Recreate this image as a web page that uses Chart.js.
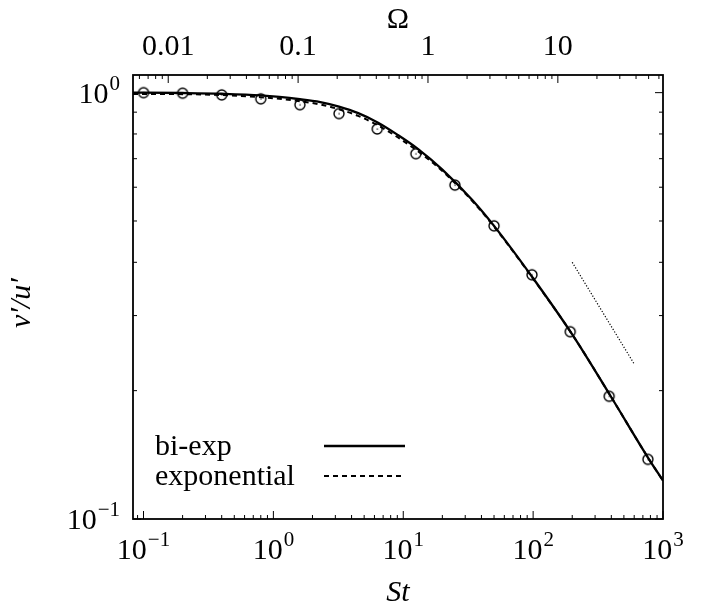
<!DOCTYPE html>
<html>
<head>
<meta charset="utf-8">
<script src="https://cdn.jsdelivr.net/npm/chart.js@4.4.1/dist/chart.umd.min.js"></script>
<style>
  body { margin: 0; background: #fff; }
  canvas { display: block; }
</style>
</head>
<body>
<canvas id="ratio-chart" width="702" height="606"></canvas>
<script>
// v'/u' against St on log-log axes, top axis in Omega
const curveSt = [0.083, 0.1, 0.2, 0.4, 0.8, 1.6, 2.3, 3.2, 4.5, 6.4, 9, 12.8, 20, 34, 50, 100, 200, 400, 770, 1000];
const biExpRatio = [1.0, 1.0, 0.998, 0.994, 0.985, 0.965, 0.950, 0.927, 0.895, 0.850, 0.797, 0.740, 0.660, 0.560, 0.487, 0.367, 0.271, 0.193, 0.139, 0.123];
const expRatio = [0.993, 0.993, 0.992, 0.987, 0.976, 0.955, 0.938, 0.914, 0.882, 0.838, 0.787, 0.731, 0.655, 0.557, 0.485, 0.366, 0.271, 0.193, 0.139, 0.123];

// simulation points (open circles)
const simSt = [0.1, 0.2, 0.4, 0.8, 1.6, 3.2, 6.3, 12.5, 25, 50, 98, 193, 385, 765];
const simRatio = [1.0, 0.997, 0.988, 0.967, 0.937, 0.893, 0.822, 0.719, 0.607, 0.487, 0.374, 0.275, 0.194, 0.138];

// St^(-1/2) guide line
const guideSt = [200, 600];
const guideRatio = [0.4, 0.231];

const stRange = [0.083, 1000];
const ratioRange = [0.1, 1.1];
const stTickExps = [-1, 0, 1, 2, 3];
const ratioTickExps = [-1, 0];
const omegaTicks = [0.01, 0.1, 1, 10];
const omegaPerSt = 1 / 15.5;

const serif = '"Liberation Serif", "Times New Roman", serif';

const toPoints = (xs, ys) => xs.map((x, i) => ({ x: x, y: ys[i] }));

// open circle with a dot in the middle
const circleMark = document.createElement('canvas');
circleMark.width = 14;
circleMark.height = 14;
(() => {
    const c = circleMark.getContext('2d');
    c.strokeStyle = '#000';
    c.lineWidth = 1.4;
    c.beginPath();
    c.arc(7, 7, 5, 0, Math.PI * 2);
    c.stroke();
    c.fillStyle = '#000';
    c.fillRect(6.5, 6.5, 1.2, 1.2);
})();

function logTicks(min, max) {
    const out = [];
    for (let k = Math.floor(Math.log10(min)); k <= Math.ceil(Math.log10(max)); k++) {
        for (let m = 1; m <= 9; m++) {
            const v = m * Math.pow(10, k);
            if (v >= min * 0.9999 && v <= max * 1.0001) out.push({ v: v, major: m === 1 });
        }
    }
    return out;
}

function drawPower(ctx, exp, x, y, align) {
    const sup = exp < 0 ? '\u2212' + Math.abs(exp) : String(exp);
    ctx.font = '30px ' + serif;
    const wBase = ctx.measureText('10').width;
    ctx.font = '21px ' + serif;
    const wSup = ctx.measureText(sup).width;
    const total = wBase + 1 + wSup;
    const left = align === 'right' ? x - total : x - total / 2;
    ctx.textAlign = 'left';
    ctx.textBaseline = 'alphabetic';
    ctx.font = '30px ' + serif;
    ctx.fillText('10', left, y);
    ctx.font = '21px ' + serif;
    ctx.fillText(sup, left + wBase + 1, y - 13);
}

// frame, inward ticks, tick labels, axis titles, legend
const framePlugin = {
    id: 'frame',
    afterDraw(chart) {
        const ctx = chart.ctx;
        const a = chart.chartArea;
        const { x, x2, y, y2 } = chart.scales;
        ctx.save();
        ctx.strokeStyle = '#000';
        ctx.fillStyle = '#000';

        ctx.lineWidth = 1;
        ctx.beginPath();
        logTicks(x.min, x.max).forEach(t => {
            const px = x.getPixelForValue(t.v);
            ctx.moveTo(px, a.bottom);
            ctx.lineTo(px, a.bottom - (t.major ? 8 : 4));
        });
        logTicks(x2.min, x2.max).forEach(t => {
            const px = x2.getPixelForValue(t.v);
            ctx.moveTo(px, a.top);
            ctx.lineTo(px, a.top + (t.major ? 8 : 4));
        });
        logTicks(y.min, y.max).forEach(t => {
            const py = y.getPixelForValue(t.v);
            ctx.moveTo(a.left, py);
            ctx.lineTo(a.left + (t.major ? 8 : 4), py);
        });
        logTicks(y2.min, y2.max).forEach(t => {
            const py = y2.getPixelForValue(t.v);
            ctx.moveTo(a.right, py);
            ctx.lineTo(a.right - (t.major ? 8 : 4), py);
        });
        ctx.stroke();

        ctx.lineWidth = 1.8;
        ctx.strokeRect(a.left, a.top, a.right - a.left, a.bottom - a.top);

        stTickExps.forEach(e => drawPower(ctx, e, x.getPixelForValue(Math.pow(10, e)), 559, 'center'));
        ratioTickExps.forEach(e => drawPower(ctx, e, 120, y.getPixelForValue(Math.pow(10, e)) + 10, 'right'));

        ctx.font = '30px ' + serif;
        ctx.textAlign = 'center';
        ctx.textBaseline = 'alphabetic';
        omegaTicks.forEach(o => ctx.fillText(String(o), x2.getPixelForValue(o), 55));
        const midX = (a.left + a.right) / 2;
        ctx.fillText('\u03A9', midX, 28);

        ctx.font = 'italic 30px ' + serif;
        ctx.fillText('St', midX, 601);
        ctx.save();
        ctx.translate(22, (a.top + a.bottom) / 2 + 6);
        ctx.rotate(-Math.PI / 2);
        ctx.textBaseline = 'middle';
        ctx.fillText('v\u2032/u\u2032', 0, 0);
        ctx.restore();

        // legend, bottom-left inside the frame
        ctx.font = '30px ' + serif;
        ctx.textAlign = 'left';
        chart.data.datasets.slice(0, 2).forEach((ds, i) => {
            const ly = 446 + i * 30;
            ctx.fillText(ds.label, 155, ly + 9);
            ctx.save();
            ctx.lineWidth = ds.borderWidth;
            ctx.setLineDash(ds.borderDash || []);
            ctx.beginPath();
            ctx.moveTo(324, ly);
            ctx.lineTo(405, ly);
            ctx.stroke();
            ctx.restore();
        });
        ctx.restore();
    }
};

const fixedSize = (prop, size) => scale => { scale[prop] = size; };

new Chart(document.getElementById('ratio-chart').getContext('2d'), {
    type: 'line',
    data: {
        datasets: [{
            label: 'bi-exp',
            data: toPoints(curveSt, biExpRatio),
            borderColor: '#000',
            borderWidth: 2.3,
            pointRadius: 0,
            cubicInterpolationMode: 'monotone'
        }, {
            label: 'exponential',
            data: toPoints(curveSt, expRatio),
            borderColor: '#000',
            borderWidth: 2,
            borderDash: [5, 4],
            pointRadius: 0,
            cubicInterpolationMode: 'monotone'
        }, {
            label: 'simulation',
            data: toPoints(simSt, simRatio),
            showLine: false,
            pointStyle: circleMark
        }, {
            label: 'slope',
            data: toPoints(guideSt, guideRatio),
            borderColor: '#000',
            borderWidth: 1.2,
            borderDash: [1.2, 1.8],
            pointRadius: 0
        }]
    },
    options: {
        responsive: false,
        devicePixelRatio: 1,
        animation: false,
        layout: { padding: 0 },
        plugins: {
            legend: { display: false },
            tooltip: { enabled: false }
        },
        scales: {
            x: {
                type: 'logarithmic', position: 'bottom',
                min: stRange[0], max: stRange[1],
                ticks: { display: false }, grid: { display: false }, border: { display: false },
                afterFit: fixedSize('height', 87)
            },
            x2: {
                type: 'logarithmic', position: 'top',
                min: stRange[0] * omegaPerSt, max: stRange[1] * omegaPerSt,
                ticks: { display: false }, grid: { display: false }, border: { display: false },
                afterFit: fixedSize('height', 75)
            },
            y: {
                type: 'logarithmic', position: 'left',
                min: ratioRange[0], max: ratioRange[1],
                ticks: { display: false }, grid: { display: false }, border: { display: false },
                afterFit: fixedSize('width', 133)
            },
            y2: {
                type: 'logarithmic', position: 'right',
                min: ratioRange[0], max: ratioRange[1],
                ticks: { display: false }, grid: { display: false }, border: { display: false },
                afterFit: fixedSize('width', 39)
            }
        }
    },
    plugins: [framePlugin]
});
</script>
</body>
</html>
